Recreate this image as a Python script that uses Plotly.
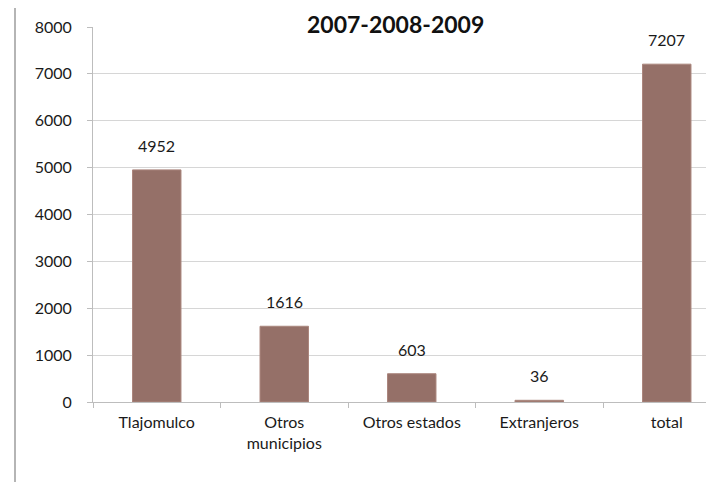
import plotly.graph_objects as go

categories = ["Tlajomulco", "Otros<br>municipios", "Otros estados", "Extranjeros", "total"]
values = [4952, 1616, 603, 36, 7207]
title_text = "2007-2008-2009"
y_ticks = [0, 1000, 2000, 3000, 4000, 5000, 6000, 7000, 8000]

BAR = "#957068"
FONT = "Lato, 'Open Sans', sans-serif"

fig = go.Figure()
fig.add_trace(go.Bar(
    x=categories, y=values, marker=dict(color=BAR, line=dict(color="#ab867d", width=1)),
    width=0.38, hoverinfo="skip",
))

for c, v in zip(categories, values):
    fig.add_annotation(x=c, y=v, xref="x", yref="y", text=str(v), showarrow=False,
                       yanchor="bottom", yshift=13,
                       font=dict(family=FONT, size=16, color="#1a1a1a"))

fig.add_annotation(x=(387 - 85) / 629, y=1, xref="paper", yref="paper", text="<b>" + title_text + "</b>",
                   showarrow=False, yanchor="top", yshift=19,
                   font=dict(family=FONT, size=23, color="#111"))

# left border of the chart frame
fig.add_shape(type="line", xref="paper", yref="paper", x0=(7 - 85) / 629, x1=(7 - 85) / 629,
              y0=-0.3, y1=1.1, line=dict(color="#b5b5b5", width=2), layer="above")

fig.update_layout(
    width=714, height=482,
    margin=dict(l=85, r=0, t=19, b=88),
    paper_bgcolor="white", plot_bgcolor="white",
    showlegend=False, bargap=0.6,
    xaxis=dict(
        range=[-0.5, -0.5 + 629 / 127.5], type="category",
        showline=True, linecolor="#bdbdbd", linewidth=1,
        ticks="outside", tickson="boundaries", ticklen=5, tickcolor="#bdbdbd",
        tickfont=dict(family=FONT, size=16, color="#1a1a1a"), showgrid=False,
        ticklabelstandoff=6,
    ),
    yaxis=dict(
        range=[0, 8000], tickvals=y_ticks,
        showline=True, linecolor="#bdbdbd", linewidth=1,
        ticks="outside", ticklen=5, tickcolor="#bdbdbd",
        gridcolor="#d6d6d6", gridwidth=1, zeroline=False,
        tickfont=dict(family=FONT, size=16, color="#1a1a1a"),
        ticklabelstandoff=12,
    ),
)

fig.write_html("out.html")
